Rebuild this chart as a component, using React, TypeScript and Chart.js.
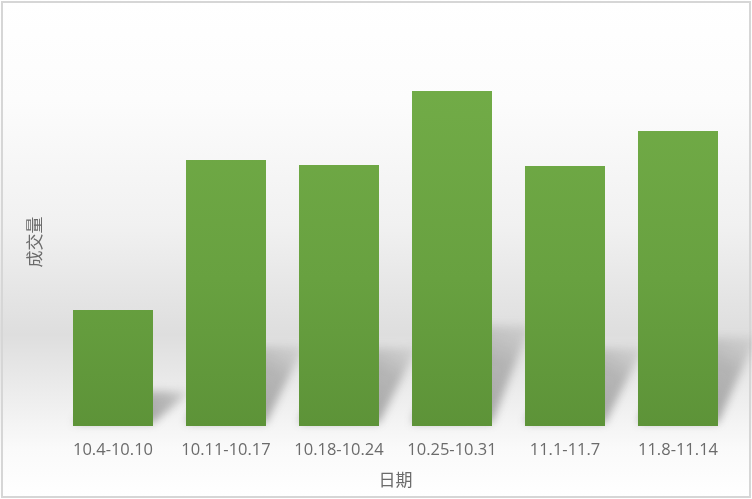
import { useEffect, useRef } from "react"
import { Chart, registerables, Plugin } from "chart.js"

Chart.register(...registerables)

const categories = ["10.4-10.10", "10.11-10.17", "10.18-10.24", "10.25-10.31", "11.1-11.7", "11.8-11.14"]
const volumes = [116, 266, 261, 335, 260, 295]
const yMin = 0
const yMax = 368

// page background: white -> soft gray band -> white, plus the thin frame
const backdrop: Plugin = {
  id: "backdrop",
  beforeDraw(chart) {
    const { ctx, width, height } = chart
    const g = ctx.createLinearGradient(0, 0, 0, height)
    g.addColorStop(0, "#ffffff")
    g.addColorStop(0.2, "#fcfcfc")
    g.addColorStop(0.45, "#f1f1f1")
    g.addColorStop(0.67, "#dedede")
    g.addColorStop(0.8, "#eeeeee")
    g.addColorStop(0.9, "#fafafa")
    g.addColorStop(1, "#ffffff")
    ctx.save()
    ctx.fillStyle = g
    ctx.fillRect(0, 0, width, height)
    ctx.strokeStyle = "#d6d6d6"
    ctx.lineWidth = 2
    ctx.strokeRect(2, 2, width - 4, height - 4)
    ctx.restore()
  },
}

// soft skewed shadow falling up-right behind every bar
const barShadows: Plugin = {
  id: "barShadows",
  beforeDatasetsDraw(chart) {
    const { ctx } = chart
    const meta = chart.getDatasetMeta(0)
    ctx.save()
    ctx.filter = "blur(4px)"
    meta.data.forEach((el: any) => {
      const { x, y, base, width } = el.getProps(["x", "y", "base", "width"], true)
      const h = base - y
      const left = x - width / 2
      const right = x + width / 2
      const dx = 38
      const dy = h * 0.3
      const g = ctx.createLinearGradient(right, base, right + dx, base - dy)
      g.addColorStop(0, "rgba(70,70,70,0.45)")
      g.addColorStop(0.6, "rgba(90,90,90,0.35)")
      g.addColorStop(1, "rgba(130,130,130,0.15)")
      ctx.fillStyle = g
      ctx.beginPath()
      ctx.moveTo(left, base - 3)
      ctx.lineTo(right, base - 3)
      ctx.lineTo(right + dx, base - dy)
      ctx.lineTo(left + dx, base - dy)
      ctx.closePath()
      ctx.fill()
    })
    ctx.restore()
  },
}

export default function App() {
  const canvasRef = useRef<HTMLCanvasElement>(null)
  const chartRef = useRef<Chart | null>(null)

  useEffect(() => {
    document.body.style.margin = "0"
    if (!canvasRef.current) return
    if (chartRef.current) chartRef.current.destroy()

    const ctx = canvasRef.current.getContext("2d")
    if (!ctx) return

    chartRef.current = new Chart(ctx, {
      type: "bar",
      data: {
        labels: categories,
        datasets: [
          {
            label: "成交量",
            data: volumes,
            backgroundColor: (c: any) => {
              const area = c.chart.chartArea
              if (!area) return "#6aa542"
              const g = c.chart.ctx.createLinearGradient(0, area.top, 0, area.bottom)
              g.addColorStop(0, "#73ad48")
              g.addColorStop(0.6, "#68a140")
              g.addColorStop(1, "#5d9338")
              return g
            },
            borderWidth: 0,
            barPercentage: 0.708,
            categoryPercentage: 1,
          },
        ],
      },
      options: {
        responsive: false,
        animation: false,
        layout: { padding: { top: 58, right: 17.5, bottom: 0, left: 0 } },
        plugins: {
          legend: { display: false },
          tooltip: { enabled: false },
        },
        scales: {
          x: {
            grid: { display: false, drawTicks: false },
            border: { display: false },
            afterFit: (scale: any) => {
              scale.height = 73
            },
            ticks: {
              color: "#6b6b6b",
              padding: 14,
              font: { family: "'Open Sans', 'Noto Sans', sans-serif", size: 16.5 },
              maxRotation: 0,
              autoSkip: false,
            },
            title: {
              display: true,
              text: "日期",
              color: "#6b6b6b",
              font: { family: "'Noto Sans CJK SC', sans-serif", size: 17 },
              padding: { top: 10, bottom: 9 },
            },
          },
          y: {
            min: yMin,
            max: yMax,
            grid: { display: false, drawTicks: false },
            border: { display: false },
            ticks: { display: false },
            title: {
              display: true,
              text: "成交量",
              color: "#6b6b6b",
              font: { family: "'Noto Sans CJK SC', sans-serif", size: 17 },
              padding: { top: 24.8, bottom: 11.3 },
            },
          },
        },
      },
      plugins: [backdrop, barShadows],
    })

    return () => {
      if (chartRef.current) {
        chartRef.current.destroy()
        chartRef.current = null
      }
    }
  }, [])

  return (
    <div style={{ width: 752, height: 499 }}>
      <canvas ref={canvasRef} width={752} height={499} style={{ display: "block" }}></canvas>
    </div>
  )
}
